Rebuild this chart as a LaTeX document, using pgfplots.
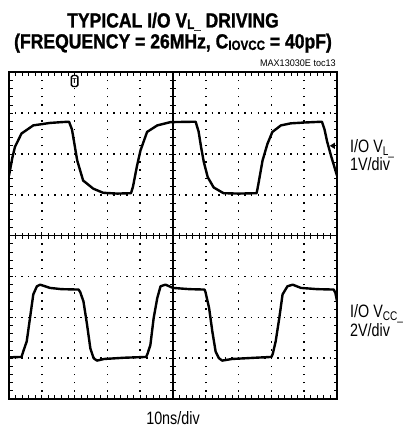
\documentclass[border=0pt]{standalone}
\usepackage{fontspec}
\setmainfont{Liberation Sans}
\newfontfamily\titlefont[FakeStretch=0.86, BoldFeatures={FakeBold=1.2}]{Liberation Sans}
\newfontfamily\labfont[FakeStretch=0.8]{Liberation Sans}
\newfontfamily\smallfont[FakeStretch=0.95]{Liberation Sans}
\usepackage{pgfplots}
\pgfplotsset{compat=1.18}
\usetikzlibrary{arrows.meta}
\newcommand{\tsub}[1]{\raisebox{-1.5bp}{\fontsize{13.5}{13.5}\selectfont #1}}
\begin{document}
\begin{tikzpicture}
\path[use as bounding box] (0,0) rectangle (405bp,429bp);
% centre graticule lines with cross ticks
\begin{axis}[
  scale only axis, width=328bp, height=326.7bp,
  at={(9bp,30bp)}, anchor=south west,
  xmin=-5, xmax=5, ymin=-4, ymax=4,
  axis lines=middle,
  axis line style={-, line width=1.1bp},
  every inner x axis line/.append style={-},
  every inner y axis line/.append style={-},
  xtick={-5,...,5}, ytick={-4,...,4},
  minor x tick num=4, minor y tick num=4,
  xticklabels={}, yticklabels={},
  tick align=center,
  major tick length=7bp, minor tick length=6bp,
  tick style={black, line width=0.9bp},
]
\end{axis}
\begin{axis}[
  scale only axis, width=328bp, height=326.7bp,
  at={(9bp,30bp)}, anchor=south west,
  xmin=0, xmax=10, ymin=0, ymax=8,
  xtick={0,...,10}, ytick={0,...,8},
  minor x tick num=4, minor y tick num=4,
  xticklabels={}, yticklabels={},
  tick align=inside, xtick pos=both, ytick pos=both,
  major tick length=3.5bp, minor tick length=3.5bp,
  tick style={black, line width=0.9bp},
  grid=major,
  x grid style={black, line width=1.6bp, dash pattern=on 1.5bp off 6.67bp, dash phase=0.75bp},
  y grid style={black, line width=1.6bp, dash pattern=on 1.5bp off 5.06bp, dash phase=0.75bp},
  axis line style={line width=2.2bp},
  clip=true,
]
% I/O V_L trace (1V/div)
\addplot[black, line width=2.4bp, line join=round] coordinates {
(0,5.47) (0.1,5.9) (0.18,6.17) (0.38,6.50) (0.74,6.70) (1.25,6.76) (1.6,6.78) (1.83,6.79)
(1.92,6.6) (2.08,5.84) (2.26,5.35) (2.57,5.15) (2.87,5.05) (3.3,5.03) (3.72,5.04)
(3.78,5.2) (3.9,5.7) (4.01,6.09) (4.21,6.54) (4.52,6.70) (4.92,6.78) (5.69,6.79)
(5.78,6.55) (5.86,6.15) (5.94,5.8) (6.06,5.43) (6.24,5.18) (6.54,5.04) (7.0,5.03) (7.55,5.04)
(7.6,5.25) (7.73,5.84) (7.88,6.25) (8.03,6.54) (8.29,6.70) (8.59,6.75) (9.0,6.77) (9.54,6.79)
(9.62,6.6) (9.7,6.3) (9.82,5.95) (10,5.47)
};
% I/O V_CC trace (2V/div)
\addplot[black, line width=2.4bp, line join=round] coordinates {
(0,1.02) (0.38,1.03) (0.45,1.2) (0.54,1.41) (0.64,1.98) (0.74,2.56) (0.85,2.76) (0.95,2.80)
(1.25,2.72) (1.6,2.69) (2.12,2.68) (2.17,2.62) (2.27,2.39) (2.38,1.82) (2.48,1.24) (2.58,1.0)
(2.68,0.94) (2.9,0.98) (3.5,1.01) (4.18,1.03) (4.22,1.1) (4.31,1.32) (4.41,1.98) (4.52,2.47)
(4.62,2.76) (4.77,2.80) (5.0,2.72) (5.5,2.69) (5.96,2.68) (5.99,2.62) (6.10,2.23) (6.20,1.65)
(6.30,1.16) (6.40,1.0) (6.50,0.94) (6.8,0.98) (7.5,1.01) (8.0,1.03) (8.04,1.1) (8.13,1.41)
(8.24,1.98) (8.34,2.56) (8.49,2.76) (8.65,2.80) (8.9,2.72) (9.4,2.69) (9.9,2.68) (9.95,2.6) (10,2.4)
};
% trigger marker
\node[anchor=north, draw=black, line width=1.4bp, fill=white, inner sep=0.3bp,
      rounded corners=1.5bp,
      minimum width=6.5bp, minimum height=11bp, font=\fontsize{7}{7}\selectfont\bfseries]
  at (axis cs:2,8) [yshift=-2.5bp] {T};
% channel reference arrow
\draw[black, line width=1.2bp, -{Triangle[length=5bp, width=6bp]}] (axis cs:10,6.2) -- (axis cs:9.78,6.2);
\end{axis}
% texts
\node[anchor=north, inner sep=0pt, align=center, font=\titlefont\bfseries\fontsize{20.5}{21}\selectfont] at (173bp,416.5bp)
  {TYPICAL I/O V\tsub{L\_} DRIVING\\(FREQUENCY = 26MHz, C\tsub{IOVCC} = 40pF)};
\node[anchor=base east, inner sep=0pt, font=\smallfont\fontsize{9.6}{9.6}\selectfont] at (336bp,362bp)
  {MAX13030E toc13};
\node[anchor=base west, inner sep=0pt, font=\labfont\fontsize{18}{18}\selectfont] at (350bp,276bp)
  {I/O V\textsubscript{L\_}};
\node[anchor=base west, inner sep=0pt, font=\labfont\fontsize{18}{18}\selectfont] at (350bp,258bp)
  {1V/div};
\node[anchor=base west, inner sep=0pt, font=\labfont\fontsize{18}{18}\selectfont] at (350bp,111bp)
  {I/O V\textsubscript{CC\_}};
\node[anchor=base west, inner sep=0pt, font=\labfont\fontsize{18}{18}\selectfont] at (350bp,92bp)
  {2V/div};
\node[anchor=base, inner sep=0pt, font=\labfont\fontsize{18}{18}\selectfont] at (173bp,5bp)
  {10ns/div};
\end{tikzpicture}
\end{document}
